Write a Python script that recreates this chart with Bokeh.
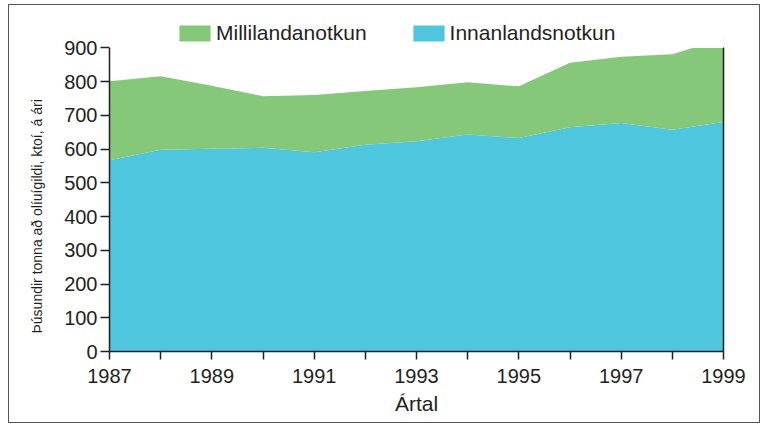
from bokeh.plotting import figure
from bokeh.models import (ColumnDataSource, Range1d, FixedTicker, LinearAxis, Title,
                          Legend, LegendItem, InlineStyleSheet, BoxAnnotation)
from bokeh.embed import file_html
from bokeh.resources import INLINE

# ---- data (thousand tonnes of oil equivalent per year) ----
years = [1987, 1988, 1989, 1990, 1991, 1992, 1993, 1994, 1995, 1996, 1997, 1998, 1999]
innanlandsnotkun = [567, 598, 601, 604, 591, 613, 623, 643, 633, 665, 677, 657, 680]
millilandanotkun = [234, 218, 187, 153, 169, 159, 160, 155, 153, 191, 197, 224, 248]
labeled_ticks = [1987, 1989, 1991, 1993, 1995, 1997, 1999]
unlabeled_ticks = [1988, 1990, 1992, 1994, 1996, 1998]
y_ticks = [0, 100, 200, 300, 400, 500, 600, 700, 800, 900]
y_axis_max = 900

BLUE = "#4dc6de"
GREEN = "#85c87a"
DARK = "#231f20"
FONT = "Liberation Sans"

source = ColumnDataSource(dict(year=years, innan=innanlandsnotkun, milli=millilandanotkun))

p = figure(width=752, height=419, output_backend="svg", toolbar_location=None,
           x_range=Range1d(1987, 1999), y_range=Range1d(0, 999),
           min_border_left=100, min_border_right=38, min_border_top=9, min_border_bottom=73)
p.outline_line_color = None
p.grid.grid_line_color = None
p.background_fill_color = "white"
p.border_fill_color = "white"
p.stylesheets = [InlineStyleSheet(css=":host { border: 1.5px solid #555; margin-left: 8px; margin-top: 4px; }")]

rs = p.varea_stack(stackers=["innan", "milli"], x="year", color=[BLUE, GREEN], source=source)

# white mask above the top of the value axis (axis ends at 900)
p.add_layout(BoxAnnotation(bottom=y_axis_max, fill_color="white", fill_alpha=1.0,
                           line_color=None))

# axes
xa = p.xaxis[0]
xa.ticker = FixedTicker(ticks=labeled_ticks, minor_ticks=unlabeled_ticks)
xa.axis_label = "Ártal"
ya = p.yaxis[0]
ya.ticker = FixedTicker(ticks=y_ticks)
ya.bounds = (0, y_axis_max)

for ax in (xa, ya):
    ax.axis_line_color = DARK
    ax.axis_line_width = 1.5
    ax.major_tick_line_color = DARK
    ax.major_tick_line_width = 1.5
    ax.minor_tick_line_color = DARK
    ax.minor_tick_line_width = 1.5
    ax.major_tick_in = 0
    ax.minor_tick_in = 0
    ax.major_label_text_font = FONT
    ax.major_label_text_font_size = "20px"
    ax.major_label_text_color = DARK
    ax.axis_label_text_font = FONT
    ax.axis_label_text_font_style = "normal"
    ax.axis_label_text_color = DARK

xa.major_tick_out = 8
xa.minor_tick_out = 8
xa.major_label_standoff = 9
xa.axis_label_text_font_size = "21px"
xa.axis_label_standoff = 6

ya.major_tick_out = 9
ya.minor_tick_line_color = None
ya.major_label_standoff = 3

# y-axis title, aligned to the 0..900 span of the axis
ytitle = Title(text="Þúsundir tonna að olíuígildi, ktoí, á ári", align="left", offset=18,
               vertical_align="bottom", standoff=34, text_font=FONT, text_font_size="14px",
               text_font_style="normal", text_color=DARK)
p.add_layout(ytitle, "left")

ra = LinearAxis(ticker=FixedTicker(ticks=[]), axis_line_color=DARK, axis_line_width=1.5,
                major_tick_line_color=None, minor_tick_line_color=None,
                major_label_text_font_size="0px", bounds=(0, y_axis_max))
p.add_layout(ra, "right")

legend = Legend(items=[LegendItem(label="Millilandanotkun", renderers=[rs[1]]),
                       LegendItem(label="Innanlandsnotkun", renderers=[rs[0]])],
                orientation="horizontal", location=(66, 306),
                padding=0, margin=0, spacing=42, label_standoff=2,
                glyph_width=39, glyph_height=20,
                label_text_font=FONT, label_text_font_size="21px", label_text_color=DARK,
                background_fill_alpha=0, border_line_color=None)
p.add_layout(legend, "center")

open("out.html", "w").write(file_html(p, INLINE))
